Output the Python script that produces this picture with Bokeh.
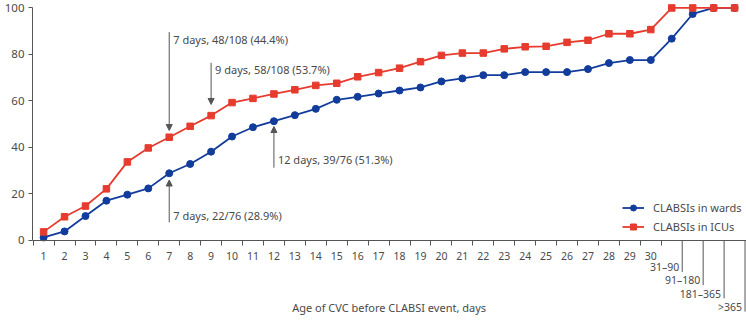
from bokeh.plotting import figure
from bokeh.models import (FixedTicker, Range1d, Arrow, NormalHead, Legend,
                          LegendItem, ColumnDataSource)
from bokeh.core.properties import value
from bokeh.embed import file_html
from bokeh.resources import INLINE

# Cumulative share (%) of CLABSI events by age of the central venous catheter
day_labels = [str(d) for d in range(1, 31)]
range_labels = ["31–90", "91–180", "181–365", ">365"]
wards = [1.3, 3.9, 10.5, 17.1, 19.7, 22.4, 28.9, 32.9, 38.2, 44.7,
         48.7, 51.3, 53.9, 56.6, 60.5, 61.8, 63.2, 64.5, 65.8, 68.4,
         69.7, 71.1, 71.1, 72.4, 72.4, 72.4, 73.7, 76.3, 77.6, 77.6,
         86.8, 97.4, 100.0, 100.0]
icus = [3.7, 10.2, 14.8, 22.2, 33.8, 39.8, 44.4, 49.1, 53.7, 59.3,
        61.1, 63.0, 64.8, 66.7, 67.6, 70.4, 72.2, 74.1, 76.9, 79.6,
        80.6, 80.6, 82.4, 83.3, 83.5, 85.2, 86.1, 88.9, 88.9, 90.7,
        100.0, 100.0, 100.0, 100.0]
y_ticks = [0, 20, 40, 60, 80, 100]

# callouts: (category index, series, text, arrow tail, tip gap, text y)
callouts = [
    (7, "icus", "7 days, 48/108 (44.4%)", 89.6, 2.9, 86.6),
    (9, "icus", "9 days, 58/108 (53.7%)", 76.4, 4.8, 73.4),
    (12, "wards", "12 days, 39/76 (51.3%)", 31.3, -2.3, 34.8),
    (7, "wards", "7 days, 22/76 (28.9%)", 7.8, -2.9, 10.9),
]

FONT = "Noto Sans"
BLUE = "#123c9c"
RED = "#e63b2e"
GREY = "#555555"
TEXT = "#4a4a4a"

labels = day_labels + range_labels
xs = list(range(1, len(labels) + 1))
n_days = len(day_labels)

p = figure(width=746, height=323, output_backend="svg", toolbar_location=None,
           x_range=Range1d(0.47, 34.57), y_range=Range1d(-35.7, 103.2),
           min_border_left=32, min_border_right=0, min_border_top=0,
           min_border_bottom=0)
p.outline_line_color = None
p.grid.visible = False
p.background_fill_color = "white"

# x axis sits at y = 0 inside the frame; day labels centred, ticks on edges
xa = p.xaxis[0]
xa.fixed_location = 0
xa.ticker = FixedTicker(ticks=xs[:n_days],
                        minor_ticks=[x - 0.5 for x in xs[:n_days + 1]])
xa.major_label_overrides = {x: l for x, l in zip(xs[:n_days], day_labels)}
xa.major_tick_out = 0
xa.major_tick_in = 0
xa.minor_tick_out = 5
xa.minor_tick_in = 0
xa.minor_tick_line_color = GREY
xa.axis_line_color = GREY
xa.major_label_standoff = 7
xa.major_label_text_font = FONT
xa.major_label_text_font_size = "10.5px"
xa.major_label_text_color = TEXT

ya = p.yaxis[0]
ya.ticker = FixedTicker(ticks=y_ticks)
ya.bounds = (0, 100)
ya.major_tick_out = 4
ya.major_tick_in = 0
ya.minor_tick_out = 0
ya.minor_tick_in = 0
ya.axis_line_color = GREY
ya.major_tick_line_color = GREY
ya.major_label_standoff = 4
ya.major_label_text_font = FONT
ya.major_label_text_font_size = "11.5px"
ya.major_label_text_color = TEXT

# staggered long ticks and labels for the grouped day ranges
rng_x = [x + 0.5 for x in xs[n_days:]]
drops = [-(13.5 + 5.7 * i) for i in range(len(range_labels))]
p.segment(x0=rng_x, y0=[0] * len(rng_x), x1=rng_x, y1=drops,
          line_color=GREY, line_width=1)
p.text(x=rng_x, y=[d + 2.0 for d in drops], text=range_labels,
       x_offset=-3, text_align="right", text_baseline="middle",
       text_font=value(FONT), text_font_size="10.5px", text_color=TEXT)

p.text(x=[17.5], y=[-28.9], text=["Age of CVC before CLABSI event, days"],
       text_align="center", text_baseline="middle",
       text_font=value(FONT), text_font_size="11px", text_color=TEXT)

src = ColumnDataSource(dict(x=xs, wards=wards, icus=icus))
bl = p.line("x", "wards", source=src, line_color=BLUE, line_width=1.8)
bs = p.scatter("x", "wards", source=src, marker="circle", size=7,
               fill_color=BLUE, line_color=BLUE)
rl = p.line("x", "icus", source=src, line_color=RED, line_width=1.8)
rs = p.scatter("x", "icus", source=src, marker="square", size=6.5,
               fill_color=RED, line_color=RED)

series = {"wards": wards, "icus": icus}
for day, key, txt, tail, gap, ty in callouts:
    tip = series[key][day - 1] + gap
    p.add_layout(Arrow(x_start=day, y_start=tail, x_end=day, y_end=tip,
                       line_color=GREY, line_width=1,
                       end=NormalHead(size=6, fill_color=GREY,
                                      line_color=GREY)))
    p.text(x=[day], y=[ty], text=[txt], x_offset=4, text_align="left",
           text_baseline="middle", text_font=value(FONT),
           text_font_size="11px", text_color=TEXT)

legend = Legend(items=[LegendItem(label="CLABSIs in wards", renderers=[bl, bs]),
                       LegendItem(label="CLABSIs in ICUs", renderers=[rl, rs])],
                location=(590, 89), orientation="vertical",
                glyph_width=22, glyph_height=15, label_height=15,
                label_standoff=9, spacing=4, padding=0, margin=0,
                border_line_color=None, background_fill_alpha=0,
                label_text_font=FONT, label_text_font_size="11px",
                label_text_color=TEXT)
p.add_layout(legend, "center")

open("out.html", "w").write(file_html(p, INLINE))
